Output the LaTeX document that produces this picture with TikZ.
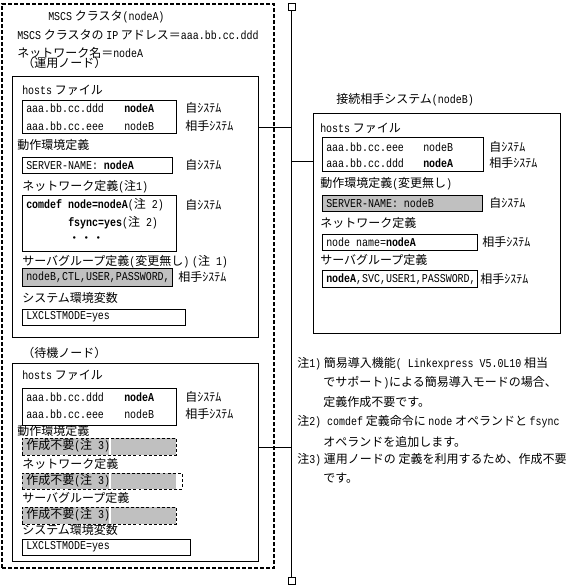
\documentclass[tikz,border=0pt]{standalone}
\usepackage{fontspec}
\setmainfont{Noto Sans CJK JP}
\newfontfamily\latn{Liberation Mono}[FakeStretch=0.83]
\usetikzlibrary{fit}

\definecolor{boxgray}{RGB}{192,192,192}
\tikzset{
    txt/.style={anchor=west, inner sep=0pt, font=\fontsize{9}{10}\selectfont},
    mono/.style={txt, font=\fontsize{9}{10}\selectfont\latn},
    panel/.style={draw, line width=0.75pt, inner sep=0pt},
    entry/.style={draw, line width=0.75pt, inner sep=0pt},
    grayentry/.style={entry, fill=boxgray},
    skipentry/.style={draw, line width=0.6pt, dash pattern=on 2.2pt off 1.6pt, fill=boxgray, inner sep=0pt},
    skipfill/.style={fill=boxgray, inner sep=0pt},
    skipframe/.style={draw, line width=0.6pt, dash pattern=on 2.2pt off 1.6pt, inner sep=0pt},
    gapline/.style={white, line width=1.2pt},
    cluster/.style={draw, line width=1.5pt, dash pattern=on 3pt off 1.5pt, inner sep=0pt},
    term/.style={draw, line width=0.75pt, minimum size=5.25pt, inner sep=0pt},
    wire/.style={line width=0.75pt},
}

\begin{document}
\begin{tikzpicture}[x=0.75pt,y=-0.75pt]
    \useasboundingbox (0,0) rectangle (575,586);

    % MSCS cluster (nodeA)
    \begin{scope}
        \node[cluster, fit={(2,4) (274,568)}] (clus) {};
        \node[txt] (ctitle) at (48,17) {{\latn MSCS} クラスタ{\latn (nodeA)}};
        \node[txt] (cip) at (17,35) {{\latn MSCS} クラスタの {\latn IP} アドレス＝{\latn aaa.bb.cc.ddd}};
        \node[txt] (cnet) at (17,53) {ネットワーク名＝{\latn nodeA}};
        \node[txt] (actlbl) at (22,63) {（運用ノード）};

        \node[panel, fit={(12,76) (258,337)}] (act) {};
        \node[txt] (ahostlbl) at (22,90) {{\latn hosts} ファイル};
        \node[entry, fit={(22,100) (176,133)}] (ahosts) {};
        \node[mono] (ah1ip) at (26,108) {aaa.bb.cc.ddd};
        \node[mono] (ah1nm) at (124,108) {\bfseries nodeA};
        \node[mono] (ah2ip) at (26,126) {aaa.bb.cc.eee};
        \node[mono] (ah2nm) at (124,126) {nodeB};
        \node[txt] (ah1sys) at (185,108) {自ｼｽﾃﾑ};
        \node[txt] (ah2sys) at (185,126) {相手ｼｽﾃﾑ};

        \node[txt] (aenvlbl) at (17,145) {動作環境定義};
        \node[entry, fit={(22,157) (172,173)}] (aenv) {};
        \node[mono] (aenvtx) at (26,165) {SERVER-NAME: \bfseries nodeA};
        \node[txt] (aenvsys) at (185,165) {自ｼｽﾃﾑ};

        \node[txt] (anetlbl) at (22,187) {ネットワーク定義{\latn (}注{\latn 1)}};
        \node[entry, fit={(22,195) (176,251)}] (anet) {};
        \node[txt] (anet1) at (26,205) {{\latn\bfseries comdef node=nodeA}{\latn (}注{\latn\ 2)}};
        \node[txt] (anet2) at (68,223) {{\latn\bfseries fsync=yes}{\latn (}注{\latn\ 2)}};
        \node[txt] (anet3) at (68,240) {・・・};
        \node[txt] (anetsys) at (185,205) {自ｼｽﾃﾑ};

        \node[txt] (asrvlbl) at (22,262) {サーバグループ定義{\latn (}変更無し{\latn )} {\latn (}注{\latn\ 1)}};
        \node[grayentry, fit={(22,268) (172,286)}] (asrv) {};
        \node[mono] (asrvtx) at (26,277) {nodeB,CTL,USER,PASSWORD,};
        \node[txt] (asrvsys) at (178,277) {相手ｼｽﾃﾑ};

        \node[txt] (asyslbl) at (22,298) {システム環境変数};
        \node[entry, fit={(22,309) (185,325)}] (asys) {};
        \node[mono] (asystx) at (26,317) {LXCLSTMODE=yes};

        % standby node
        \node[txt] (sbylbl) at (22,353) {（待機ノード）};
        \node[panel, fit={(12,363) (258,561)}] (sby) {};
        \node[txt] (shostlbl) at (22,375) {{\latn hosts} ファイル};
        \node[entry, fit={(22,388) (176,425)}] (shosts) {};
        \node[mono] (sh1ip) at (26,397) {aaa.bb.cc.ddd};
        \node[mono] (sh1nm) at (124,397) {\bfseries nodeA};
        \node[mono] (sh2ip) at (26,414) {aaa.bb.cc.eee};
        \node[mono] (sh2nm) at (124,414) {nodeB};
        \node[txt] (sh1sys) at (185,397) {自ｼｽﾃﾑ};
        \node[txt] (sh2sys) at (185,414) {相手ｼｽﾃﾑ};

        \coordinate (gap) at (110,0);
        \node[txt] (senvlbl) at (17,431) {動作環境定義};
        \node[skipentry, fit={(22,438) (176,455)}] (senv) {};
        \draw[gapline] (senv.north -| gap) -- (senv.south -| gap);
        \node[txt] (senvtx) at (26,446) {作成不要{\latn (}注{\latn\ 3)}};

        \node[txt] (snetlbl) at (22,464) {ネットワーク定義};
        \node[skipfill, fit={(22,473) (176,489)}] (snet) {};
        \node[skipframe, fit={(22,473) (182,489)}] (snetfr) {};
        \draw[gapline] (snet.north -| gap) -- (snet.south -| gap);
        \node[txt] (snettx) at (26,481) {作成不要{\latn (}注{\latn\ 3)}};

        \node[txt] (ssrvlbl) at (22,498) {サーバグループ定義};
        \node[skipentry, fit={(22,507) (176,524)}] (ssrv) {};
        \draw[gapline] (ssrv.north -| gap) -- (ssrv.south -| gap);
        \node[txt] (ssrvtx) at (26,515) {作成不要{\latn (}注{\latn\ 3)}};

        \node[txt] (ssyslbl) at (22,530) {システム環境変数};
        \node[entry, fit={(22,539) (190,555)}] (ssys) {};
        \node[mono] (ssystx) at (26,547) {LXCLSTMODE=yes};
    \end{scope}

    % LAN
    \node[term] (lantop) at (291.5,6.5) {};
    \node[term] (lanbot) at (291.5,580.5) {};
    \draw[wire] (lantop) -- (lanbot);
    \coordinate (tapact) at (291.5,127);
    \coordinate (tappeer) at (291.5,161);
    \coordinate (tapsby) at (291.5,447);

    % peer system (nodeB)
    \begin{scope}
        \node[txt] (ptitle) at (336,100) {接続相手システム{\latn (nodeB)}};
        \node[panel, fit={(313,113) (560,333)}] (peer) {};
        \node[txt] (phostlbl) at (320,128) {{\latn hosts} ファイル};
        \node[entry, fit={(322,137) (483,171)}] (phosts) {};
        \node[mono] (ph1ip) at (326,147) {aaa.bb.cc.eee};
        \node[mono] (ph1nm) at (423,147) {nodeB};
        \node[mono] (ph2ip) at (326,163) {aaa.bb.cc.ddd};
        \node[mono] (ph2nm) at (423,163) {\bfseries nodeA};
        \node[txt] (ph1sys) at (489,147) {自ｼｽﾃﾑ};
        \node[txt] (ph2sys) at (489,163) {相手ｼｽﾃﾑ};

        \node[txt] (penvlbl) at (320,184) {動作環境定義{\latn (}変更無し{\latn )}};
        \node[grayentry, fit={(322,195) (482,211)}] (penv) {};
        \node[mono] (penvtx) at (326,203) {SERVER-NAME: nodeB};
        \node[txt] (penvsys) at (489,203) {自ｼｽﾃﾑ};

        \node[txt] (pnetlbl) at (320,223) {ネットワーク定義};
        \node[entry, fit={(322,234) (477,250)}] (pnet) {};
        \node[mono] (pnettx) at (326,242) {node name=\textbf{nodeA}};
        \node[txt] (pnetsys) at (482,242) {相手ｼｽﾃﾑ};

        \node[txt] (psrvlbl) at (320,260) {サーバグループ定義};
        \node[entry, fit={(322,270) (477,287)}] (psrv) {};
        \node[mono] (psrvtx) at (326,279) {\textbf{nodeA},SVC,USER1,PASSWORD,};
        \node[txt] (psrvsys) at (480,279) {相手ｼｽﾃﾑ};
    \end{scope}

    \draw[wire] (act.east |- tapact) -- (tapact);
    \draw[wire] (tappeer) -- (peer.west |- tappeer);
    \draw[wire] (sby.east |- tapsby) -- (tapsby);

    % notes
    \node[txt] (note1a) at (297,364) {注{\latn 1)} 簡易導入機能{\latn ( Linkexpress V5.0L10} 相当};
    \node[txt] (note1b) at (323,383) {でサポート{\latn )}による簡易導入モードの場合、};
    \node[txt] (note1c) at (323,402) {定義作成不要です。};
    \node[txt] (note2a) at (297,422) {注{\latn 2) comdef} 定義命令に {\latn node} オペランドと {\latn fsync}};
    \node[txt] (note2b) at (323,442) {オペランドを追加します。};
    \node[txt] (note3a) at (297,460) {注{\latn 3)} 運用ノードの 定義を利用するため、作成不要};
    \node[txt] (note3b) at (323,478) {です。};
\end{tikzpicture}
\end{document}
